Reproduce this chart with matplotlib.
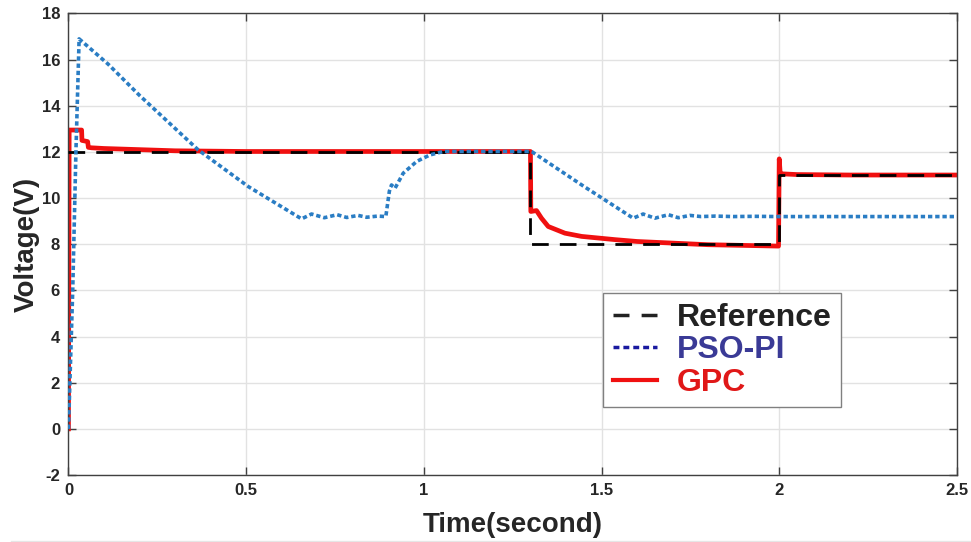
import matplotlib
matplotlib.use("Agg")
import matplotlib.pyplot as plt
from matplotlib.lines import Line2D

plt.rcParams['font.family'] = ['Liberation Sans', 'DejaVu Sans']
plt.rcParams['axes.unicode_minus'] = False

# reference voltage (step commands)
t_ref = [0, 1.3, 1.3, 2.0, 2.0, 2.5]
v_ref = [12, 12, 8, 8, 11, 11]

# PSO-PI controller response
t_pso = [0, 0.004, 0.012, 0.021, 0.030, 0.112, 0.2, 0.365, 0.506, 0.656,
         0.684, 0.72, 0.756, 0.783, 0.815, 0.839, 0.87, 0.893, 0.903, 0.909,
         0.919, 0.942, 0.98, 1.017, 1.055, 1.1, 1.3, 1.305, 1.449, 1.589,
         1.617, 1.65, 1.688, 1.716, 1.749, 1.78, 1.82, 1.87, 1.93, 2.0, 2.5]
v_pso = [0, 2, 6, 12, 16.9, 15.8, 14.45, 12.09, 10.5, 9.1,
         9.31, 9.15, 9.28, 9.16, 9.25, 9.17, 9.22, 9.2, 10.3, 10.57,
         10.43, 11.08, 11.59, 11.87, 12.02, 12.02, 12.02, 12.0, 10.52, 9.13,
         9.31, 9.13, 9.28, 9.15, 9.25, 9.2, 9.22, 9.2, 9.21, 9.2, 9.2]

# GPC controller response
t_gpc = [0, 0.002, 0.037, 0.038, 0.054, 0.056, 0.065, 0.1, 0.2, 0.3, 0.5,
         1.3, 1.301, 1.317, 1.331, 1.35, 1.397, 1.444, 1.538, 1.6, 1.7,
         1.8, 1.9, 1.998, 2.0, 2.003, 2.01, 2.05, 2.2, 2.5]
v_gpc = [0, 12.95, 12.95, 12.5, 12.45, 12.2, 12.18, 12.15, 12.1, 12.05, 12.02,
         12.02, 9.42, 9.46, 9.13, 8.77, 8.48, 8.34, 8.2, 8.12, 8.05,
         7.98, 7.95, 7.92, 11.7, 11.0, 11.05, 11.02, 11.0, 11.0]

fig = plt.figure(figsize=(9.71, 5.42), dpi=100)
ax = fig.add_axes([0.0705, 0.1236, 0.915, 0.8515])

ax.plot(t_ref, v_ref, color='black', linestyle=(0, (6, 4)), linewidth=2, zorder=3)
ax.plot(t_pso, v_pso, color='#2a7dc4', linestyle=(0, (1.2, 0.8)), linewidth=2.6, zorder=4)
ax.plot(t_gpc, v_gpc, color='#f01010', linewidth=3.4, zorder=2)

ax.set_xlim(0, 2.5)
ax.set_ylim(-2, 18)
ax.set_xticks([0, 0.5, 1, 1.5, 2, 2.5])
ax.set_xticklabels(['0', '0.5', '1', '1.5', '2', '2.5'])
ax.set_yticks(range(-2, 19, 2))
ax.grid(True, color='#e2e2e2', linewidth=1)
ax.set_axisbelow(True)

ax.tick_params(direction='in', length=6, width=1, color='#404040',
               top=True, right=True, labelsize=12, labelcolor='#262626', pad=6)
for lbl in ax.get_xticklabels() + ax.get_yticklabels():
    lbl.set_fontweight('bold')
for sp in ax.spines.values():
    sp.set_color('#404040')
    sp.set_linewidth(1)

ax.set_xlabel('Time(second)', fontsize=20, fontweight='bold', color='#262626', labelpad=10)
ax.set_ylabel('Voltage(V)', fontsize=20, fontweight='bold', color='#262626', labelpad=1)

# legend handles
handles = [
    Line2D([], [], color='#222222', linestyle=(0, (4.6, 3.5)), linewidth=2.5),
    Line2D([], [], color='#1a1aa0', linestyle=(0, (1.7, 1.15)), linewidth=2.5),
    Line2D([], [], color='#f01010', linewidth=3),
]
leg = ax.legend(handles, ['Reference', 'PSO-PI', 'GPC'],
                loc='upper left', bbox_to_anchor=(0.6016, 0.394), borderaxespad=0,
                prop={'weight': 'bold', 'size': 23}, frameon=True, fancybox=False,
                edgecolor='#808080', framealpha=1, handlelength=1.4,
                labelspacing=0.08, borderpad=0.3, handletextpad=0.6)
leg.get_frame().set_linewidth(1)
for txt, col in zip(leg.get_texts(), ['#222222', '#3a3a96', '#e01818']):
    txt.set_color(col)

# faint line along the bottom edge
fig.add_artist(Line2D([0.011, 1.0], [0.002, 0.002], color='#e6e6e6', linewidth=1,
                      transform=fig.transFigure))

fig.savefig('out.png', dpi=100)
